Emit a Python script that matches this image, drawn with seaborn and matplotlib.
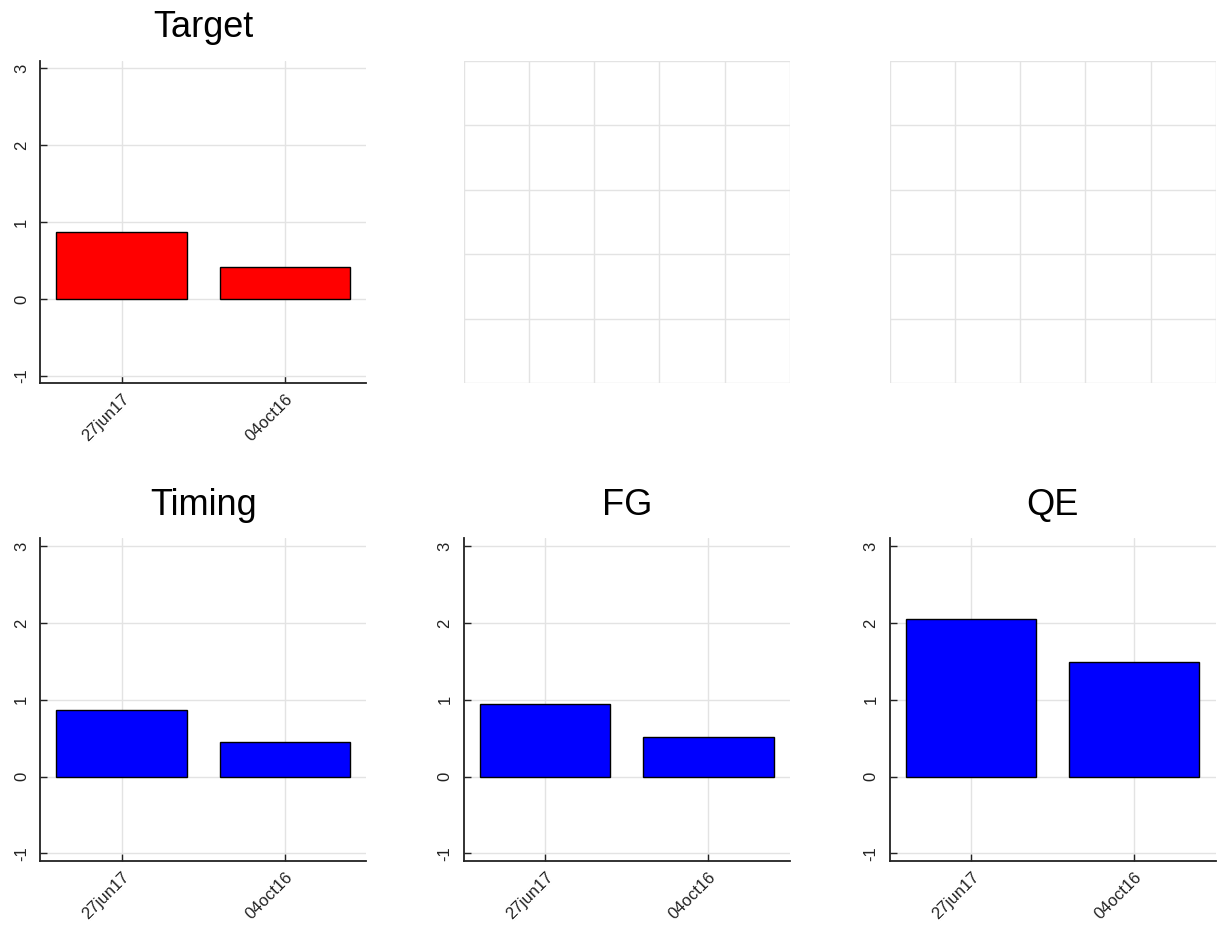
import seaborn as sns
import matplotlib.pyplot as plt
import pandas as pd
import numpy as np

dates = ['27jun17', '04oct16']
target = [0.87, 0.42]
timing = [0.87, 0.45]
fg = [0.95, 0.51]
qe = [2.05, 1.49]

sns.set_style('white')
plt.rcParams['font.family'] = ['Liberation Sans', 'DejaVu Sans']
plt.rcParams['axes.unicode_minus'] = False

fig = plt.figure(figsize=(12.17, 9.33), dpi=100)

W, H = 0.268, 0.346
lefts = [0.033, 0.381, 0.731]
bottoms = [0.589, 0.077]


def bar_panel(ax, values, title, color):
    df = pd.DataFrame({'date': dates, 'value': values})
    sns.barplot(data=df, x='date', y='value', color=color, saturation=1,
                edgecolor='black', linewidth=1, width=0.8, ax=ax, zorder=3)
    ax.set_xlim(-0.5, 1.5)
    ax.set_ylim(-1.1, 3.1)
    ax.set_yticks([-1, 0, 1, 2, 3])
    ax.set_xlabel('')
    ax.set_ylabel('')
    ax.set_title(title, fontsize=26, pad=17, color='black')
    ax.grid(True, color='#e3e3e3', linewidth=1, zorder=0)
    ax.set_axisbelow(True)
    for s in ['top', 'right']:
        ax.spines[s].set_visible(False)
    for s in ['left', 'bottom']:
        ax.spines[s].set_color('#222222')
        ax.spines[s].set_linewidth(1.3)
    ax.tick_params(bottom=True, left=True, direction='in', length=5, width=1,
                   colors='#222222', labelcolor='#222222')
    ax.tick_params(axis='x', pad=6)
    ax.tick_params(axis='y', pad=8)
    plt.setp(ax.get_xticklabels(), rotation=45, ha='right', rotation_mode='anchor', fontsize=12)
    plt.setp(ax.get_yticklabels(), rotation=90, va='center', fontsize=12)


def empty_panel(ax):
    ax.set_xlim(0, 1)
    ax.set_ylim(0, 1)
    ax.set_xticks(np.arange(0, 1.01, 0.2))
    ax.set_yticks(np.arange(0, 1.01, 0.2))
    ax.grid(True, color='#e3e3e3', linewidth=1)
    ax.tick_params(length=0, labelbottom=False, labelleft=False)
    for s in ax.spines.values():
        s.set_visible(False)


ax1 = fig.add_axes([lefts[0], bottoms[0], W, H])
bar_panel(ax1, target, 'Target', '#ff0000')
empty_panel(fig.add_axes([lefts[1], bottoms[0], W, H]))
empty_panel(fig.add_axes([lefts[2], bottoms[0], W, H]))

bar_panel(fig.add_axes([lefts[0], bottoms[1], W, H]), timing, 'Timing', '#0000ff')
bar_panel(fig.add_axes([lefts[1], bottoms[1], W, H]), fg, 'FG', '#0000ff')
bar_panel(fig.add_axes([lefts[2], bottoms[1], W, H]), qe, 'QE', '#0000ff')

fig.savefig('out.png', dpi=100)
